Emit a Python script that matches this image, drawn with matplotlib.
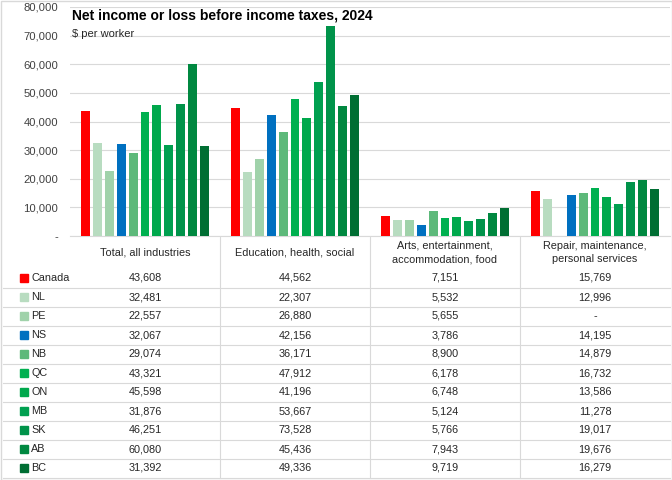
import numpy as np
import matplotlib
matplotlib.use("Agg")
import matplotlib.pyplot as plt
from matplotlib.patches import Rectangle

plt.rcParams['font.family'] = ['Liberation Sans', 'DejaVu Sans']

categories = ["Total, all industries", "Education, health, social",
              "Arts, entertainment,\naccommodation, food",
              "Repair, maintenance,\npersonal services"]
regions = ["Canada", "NL", "PE", "NS", "NB", "QC", "ON", "MB", "SK", "AB", "BC"]
canada = [43608, 44562, 7151, 15769]
nl = [32481, 22307, 5532, 12996]
pe = [22557, 26880, 5655, np.nan]
ns = [32067, 42156, 3786, 14195]
nb = [29074, 36171, 8900, 14879]
qc = [43321, 47912, 6178, 16732]
on = [45598, 41196, 6748, 13586]
mb = [31876, 53667, 5124, 11278]
sk = [46251, 73528, 5766, 19017]
ab = [60080, 45436, 7943, 19676]
bc = [31392, 49336, 9719, 16279]
series = [canada, nl, pe, ns, nb, qc, on, mb, sk, ab, bc]
colors = ["#FF0000", "#B8DCC0", "#A0D2AA", "#0070C0", "#5DB97A", "#00B050",
          "#00A84C", "#00A050", "#00934A", "#008840", "#006E33"]
yticks = [0, 10000, 20000, 30000, 40000, 50000, 60000, 70000, 80000]

W, H = 672, 480
fig = plt.figure(figsize=(W / 100, H / 100), dpi=100)

# main plot area in pixels
L, R, T, B = 70, 670, 7, 236
ax = fig.add_axes([L / W, 1 - B / H, (R - L) / W, (B - T) / H])
n = len(series)
slot = 0.867 / n
bw = slot * 0.76
x = np.arange(len(categories))
for i, (vals, c) in enumerate(zip(series, colors)):
    offs = (i - (n - 1) / 2) * slot
    ax.bar(x + offs, vals, width=bw, color=c, zorder=3)
ax.set_xlim(-0.5, len(categories) - 0.5)
ax.set_ylim(0, 80000)
ax.set_yticks(yticks)
ax.set_yticklabels(["-" if v == 0 else f"{v:,}" for v in yticks],
                   fontsize=8.1, color="#404040")
ax.tick_params(axis='y', length=0, pad=8.5)
ax.set_xticks([])
ax.grid(axis='y', color="#D9D9D9", linewidth=0.8, zorder=0)
for s in ["top", "right", "left"]:
    ax.spines[s].set_visible(False)
ax.spines["bottom"].set_color("#D9D9D9")
ax.text(2 / (R - L), 0.962, "Net income or loss before income taxes, 2024",
        transform=ax.transAxes, fontsize=10, fontweight="bold", color="black",
        va="center", ha="left")
ax.text(2 / (R - L), 0.884, "$ per worker", transform=ax.transAxes,
        fontsize=8, color="#262626", va="center", ha="left")

# overlay for table
ov = fig.add_axes([0, 0, 1, 1], zorder=-1)
ov.set_xlim(0, W)
ov.set_ylim(H, 0)
ov.axis("off")
ov.add_patch(Rectangle((0.5, 0.5), W - 1, H - 1, fill=False, edgecolor="#D9D9D9", lw=1))

col_w = (R - L) / len(categories)
col_centers = [L + col_w * (j + 0.5) for j in range(len(categories))]
for j in range(1, len(categories)):
    xx = L + col_w * j
    ov.plot([xx, xx], [B, 478], color="#D9D9D9", lw=0.8)
for j, cat in enumerate(categories):
    ov.text(col_centers[j], 252.5, cat, ha="center", va="center", fontsize=7.8,
            color="#262626", linespacing=1.45)

row0 = 278
rh = 19
for i, (reg, vals, c) in enumerate(zip(regions, series, colors)):
    yy = row0 + i * rh
    ov.add_patch(Rectangle((20, yy - 4), 7.5, 7.5, color=c))
    ov.text(31, yy, reg, ha="left", va="center", fontsize=7.8, color="#262626")
    for j, v in enumerate(vals):
        s = "-" if np.isnan(v) else f"{int(v):,}"
        ov.text(col_centers[j], yy, s, ha="center", va="center", fontsize=7.8,
                color="#262626")
    ov.plot([3, R], [yy + rh / 2, yy + rh / 2], color="#D9D9D9", lw=0.8)

fig.savefig("out.png", dpi=100)
